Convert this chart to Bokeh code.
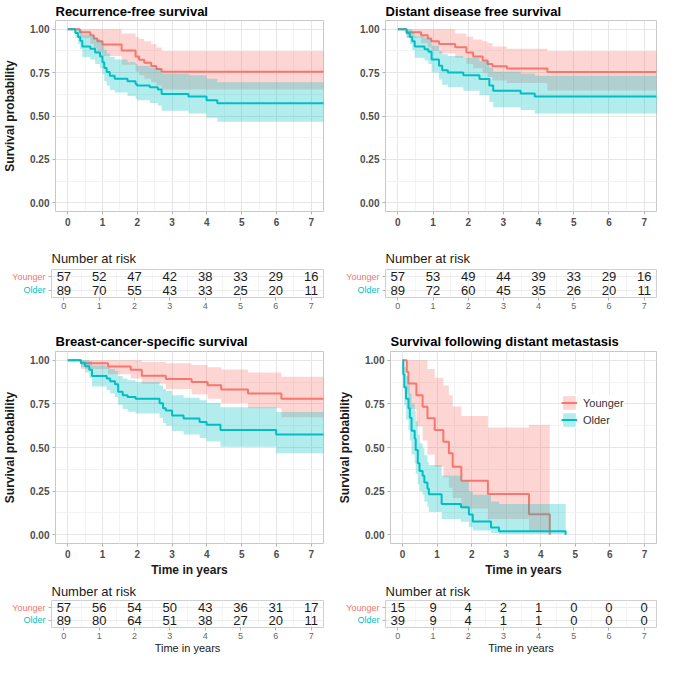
from bokeh.plotting import figure
from bokeh.models import (Range1d, SingleIntervalTicker, FixedTicker, NumeralTickFormatter,
                          Legend, LegendItem, ColumnDataSource)
from bokeh.layouts import column, row
from bokeh.embed import file_html
from bokeh.resources import INLINE
from bokeh.core.properties import value

FONT = "Liberation Sans"
RED = "#F8766D"
TEAL = "#00BFC4"

groups = ["Younger", "Older"]
risk_times = [0, 1, 2, 3, 4, 5, 6, 7]
follow_up_end = [7.4]

# ---- Recurrence-free survival ----
rfs_y_t = [0, 0.35, 0.65, 0.75, 0.85, 1.0, 1.55, 1.95, 2.05, 2.2, 2.4, 2.55, 2.7]
rfs_y_s = [1, .982, .965, .947, .930, .912, .877, .842, .824, .806, .788, .770, .755]
rfs_y_lo = [1, .948, .915, .89, .87, .845, .795, .755, .735, .715, .695, .675, .652]
rfs_y_hi = [1, 1, 1, 1, 1, 1, .975, .955, .945, .93, .915, .895, .875]
rfs_o_t = [0, 0.22, 0.3, 0.36, 0.42, 0.65, 0.79, 0.93, 1.0, 1.05, 1.12, 1.21, 1.35, 1.72, 1.95,
           1.99, 2.36, 2.59, 2.70, 3.47, 3.99, 4.30]
rfs_o_s = [1, .978, .955, .933, .90, .888, .865, .843, .81, .776, .754, .732, .715, .70, .684,
           .676, .665, .652, .627, .612, .59, .573]
rfs_o_hi = [1, 1, 1, .995, .97, .96, .945, .93, .905, .88, .86, .84, .825, .81, .80,
            .79, .78, .77, .745, .735, .715, .695]
rfs_o_lo = [1, .95, .915, .885, .84, .825, .80, .775, .74, .70, .675, .65, .635, .615, .60,
            .59, .575, .56, .53, .515, .49, .467]
rfs_risk_y = [57, 52, 47, 42, 38, 33, 29, 16]
rfs_risk_o = [89, 70, 55, 43, 33, 25, 20, 11]

# ---- Distant disease free survival ----
ddfs_y_t = [0, 0.25, 0.66, 0.85, 0.95, 1.17, 1.63, 1.95, 2.14, 2.41, 2.55, 2.69, 3.1, 4.25]
ddfs_y_s = [1, .982, .965, .947, .93, .915, .896, .865, .843, .82, .80, .787, .773, .754]
ddfs_y_hi = [1, 1, 1, 1, 1, 1, .975, .957, .94, .93, .92, .90, .887, .875]
ddfs_y_lo = [1, .95, .92, .895, .875, .86, .835, .80, .775, .75, .725, .705, .69, .647]
ddfs_o_t = [0, .25, .34, .41, .48, .76, .87, .96, 1.17, 1.26, 1.42, 1.86, 2.32, 2.60, 2.71, 3.49, 3.89]
ddfs_o_s = [1, .978, .955, .93, .90, .885, .87, .825, .79, .763, .75, .735, .713, .676, .645, .63, .613]
ddfs_o_hi = [1, 1, 1, .985, .96, .95, .94, .905, .875, .855, .845, .835, .815, .78, .755, .745, .732]
ddfs_o_lo = [1, .95, .915, .88, .835, .82, .80, .75, .71, .68, .665, .645, .62, .58, .55, .535, .515]
ddfs_risk_y = [57, 53, 49, 44, 39, 33, 29, 16]
ddfs_risk_o = [89, 72, 60, 45, 35, 26, 20, 11]

# ---- Breast-cancer-specific survival ----
bcss_y_t = [0, .38, 1.16, 1.81, 2.13, 2.82, 3.56, 4.02, 4.41, 5.18, 6.14]
bcss_y_s = [1, .982, .964, .946, .911, .893, .875, .857, .833, .81, .78]
bcss_y_hi = [1, 1, 1, 1, .99, .983, .972, .96, .947, .93, .906]
bcss_y_lo = [1, .95, .92, .895, .865, .835, .805, .78, .755, .725, .673]
bcss_o_t = [0, .38, .5, .62, .7, 1.12, 1.22, 1.36, 1.45, 1.58, 1.72, 1.95, 2.64, 2.74, 2.82, 3.0,
            3.33, 3.79, 3.99, 4.39, 5.99]
bcss_o_s = [1, .985, .965, .945, .91, .895, .88, .863, .82, .80, .79, .78, .753, .725, .712, .683,
            .666, .646, .63, .60, .574]
bcss_o_hi = [1, 1, 1, .995, .97, .96, .95, .94, .91, .895, .885, .875, .855, .835, .825, .80,
             .785, .77, .755, .73, .703]
bcss_o_lo = [1, .96, .93, .90, .85, .83, .81, .79, .745, .72, .705, .695, .67, .64, .625, .595,
             .575, .555, .535, .505, .467]
bcss_risk_y = [57, 56, 54, 50, 43, 36, 31, 17]
bcss_risk_o = [89, 80, 64, 51, 38, 27, 20, 11]

# ---- Survival following distant metastasis ----
sdm_y_t = [0, .12, .17, .40, .58, .72, .93, 1.18, 1.34, 1.45, 1.70, 2.47, 3.66, 4.26]
sdm_y_s = [1, .933, .867, .80, .733, .667, .60, .533, .467, .39, .31, .233, .117, 0]
sdm_y_hi = [1, 1, 1, 1, 1, .95, .90, .855, .80, .735, .68, .615, .63, 0]
sdm_y_lo = [1, .81, .72, .62, .54, .46, .39, .33, .27, .21, .15, .09, .02, 0]
sdm_o_t = [0, .02, .05, .10, .17, .21, .26, .35, .38, .44, .49, .58, .63, .72, .76, 1.13, 1.69,
           1.92, 2.03, 2.56, 2.79, 4.72]
sdm_o_s = [1, .92, .845, .78, .725, .67, .596, .55, .485, .41, .365, .338, .30, .264, .232, .177,
           .157, .116, .076, .042, .02, 0]
sdm_o_hi = [1, 1, .96, .91, .86, .81, .75, .71, .65, .575, .525, .495, .455, .415, .40, .34, .31,
            .25, .23, .19, .177, 0]
sdm_o_lo = [1, .84, .74, .66, .60, .54, .46, .41, .35, .29, .25, .23, .19, .16, .13, .09, .075,
            .045, .025, .01, .005, 0]
sdm_risk_y = [15, 9, 4, 2, 1, 0, 0, 0]
sdm_risk_o = [39, 9, 4, 1, 1, 0, 0, 0]


def step_xy(t, v, t_end):
    xs, ys = [], []
    for i in range(len(t)):
        x1 = t[i + 1] if i + 1 < len(t) else t_end
        xs += [t[i], x1]
        ys += [v[i], v[i]]
    return xs, ys


def style_axes(p, tick_size, tick_style, tick_color):
    for ax in (p.xaxis[0], p.yaxis[0]):
        ax.axis_line_color = None
        ax.major_tick_line_color = "#b3b3b3"
        ax.major_tick_out = 3
        ax.major_tick_in = 0
        ax.minor_tick_line_color = None
        ax.major_label_text_font = FONT
        ax.major_label_text_font_size = tick_size
        ax.major_label_text_font_style = tick_style
        ax.major_label_text_color = tick_color
        ax.major_label_standoff = 2


def km_panel(title, width, height, ml, mr, mt, mb, standoff, curves, ylabel, xlabel,
             legend_loc=None):
    p = figure(width=width, height=height, output_backend="svg", toolbar_location=None,
               x_range=Range1d(-0.35, 7.35), y_range=Range1d(-0.05, 1.05),
               min_border_left=ml, min_border_right=mr, min_border_top=mt, min_border_bottom=mb,
               title=title)
    p.title.text_font = FONT
    p.title.text_font_size = "13px"
    p.title.text_font_style = "bold"
    p.title.text_color = "#000000"
    p.title.align = "left"
    p.title.offset = 0
    p.title.standoff = standoff
    p.outline_line_color = "#c8c8c8"
    p.background_fill_color = "white"
    p.border_fill_color = "white"
    xt = SingleIntervalTicker(interval=1, num_minor_ticks=2)
    yt = SingleIntervalTicker(interval=0.25, num_minor_ticks=2)
    p.xaxis.ticker = xt
    p.xgrid.ticker = xt
    p.yaxis.ticker = yt
    p.ygrid.ticker = yt
    p.yaxis.formatter = NumeralTickFormatter(format="0.00")
    for g in (p.xgrid[0], p.ygrid[0]):
        g.grid_line_color = "#e6e6e6"
        g.minor_grid_line_color = "#f3f3f3"
    style_axes(p, "10px", "bold", "#4d4d4d")
    for ax, lab in ((p.yaxis[0], ylabel), (p.xaxis[0], xlabel)):
        if lab:
            ax.axis_label = lab
            ax.axis_label_text_font = FONT
            ax.axis_label_text_font_size = "12px"
            ax.axis_label_text_font_style = "bold"
            ax.axis_label_text_color = "#1a1a1a"
    p.yaxis.axis_label_standoff = 10
    p.xaxis.axis_label_standoff = 2
    items = []
    for name, color, (t, s, lo, hi, end) in zip(groups, (RED, TEAL), curves):
        bx, by1 = step_xy(t, lo, end)
        _, by2 = step_xy(t, hi, end)
        br = p.varea(x=bx, y1=by1, y2=by2, fill_color=color, fill_alpha=0.3)
        lx, ly = step_xy(t, s, end)
        lr = p.line(x=lx, y=ly, line_color=color, line_width=2)
        items.append(LegendItem(label=name, renderers=[br, lr]))
    if legend_loc is not None:
        lg = Legend(items=items, location=legend_loc, background_fill_color="white",
                    background_fill_alpha=1, border_line_color=None, padding=5, spacing=0,
                    margin=0, glyph_width=16, glyph_height=17, label_height=17,
                    label_standoff=6, label_text_font=FONT, label_text_font_size="11px",
                    label_text_color="#333333")
        p.add_layout(lg)
    return p


def risk_panel(width, height, ml, mr, mt, mb, standoff, counts_y, counts_o, xlabel):
    p = figure(width=width, height=height, output_backend="svg", toolbar_location=None,
               x_range=Range1d(-0.35, 7.35), y_range=Range1d(0.45, 2.55),
               min_border_left=ml, min_border_right=mr, min_border_top=mt, min_border_bottom=mb,
               title="Number at risk")
    p.title.text_font = FONT
    p.title.text_font_size = "13px"
    p.title.text_font_style = "normal"
    p.title.text_color = "#1a1a1a"
    p.title.align = "left"
    p.title.offset = 0
    p.title.standoff = standoff
    p.outline_line_color = "#d0d0d0"
    xt = SingleIntervalTicker(interval=1, num_minor_ticks=2)
    yt = FixedTicker(ticks=[1, 2])
    p.xaxis.ticker = xt
    p.xgrid.ticker = xt
    p.yaxis.ticker = yt
    p.ygrid.ticker = yt
    for g in (p.xgrid[0], p.ygrid[0]):
        g.grid_line_color = "#ececec"
        g.minor_grid_line_color = "#f5f5f5"
    style_axes(p, "9px", "normal", "#666666")
    p.xaxis.major_label_standoff = 1
    p.yaxis.major_label_overrides = {1: "", 2: ""}
    p.yaxis.major_label_standoff = 0
    p.yaxis.major_tick_out = 3
    if xlabel:
        p.xaxis.axis_label = xlabel
        p.xaxis.axis_label_text_font = FONT
        p.xaxis.axis_label_text_font_size = "11px"
        p.xaxis.axis_label_text_font_style = "normal"
        p.xaxis.axis_label_text_color = "#1a1a1a"
        p.xaxis.axis_label_standoff = 0
    src = ColumnDataSource(dict(x=risk_times + risk_times,
                                y=[2] * len(counts_y) + [1] * len(counts_o),
                                txt=[str(v) for v in counts_y + counts_o]))
    p.text(x="x", y="y", text="txt", source=src, text_align="center", text_baseline="middle",
           text_font=value(FONT), text_font_size="13px", text_color="#1a1a1a")
    return p


def row_labels(width, height, mt, mb):
    p = figure(width=width, height=height, output_backend="svg", toolbar_location=None,
               x_range=Range1d(0, 1), y_range=Range1d(0.45, 2.55),
               min_border_left=0, min_border_right=0, min_border_top=mt, min_border_bottom=mb)
    p.axis.visible = False
    p.grid.visible = False
    p.outline_line_color = None
    src = ColumnDataSource(dict(x=[1, 1], y=[2, 1], txt=groups, col=[RED, TEAL]))
    p.text(x="x", y="y", text="txt", text_color="col", source=src, text_align="right",
           text_baseline="middle", x_offset=-1, text_font=value(FONT), text_font_size="9px")
    return p


WL, WR = 335, 322
LABW_L, LABW_R = 46, 45
ML, MRL, MRR = 51, 12, 1
ML_R = 50

H1, H2, H3, H4 = 233, 82, 264, 77

f1 = km_panel("Recurrence-free survival", WL, H1, ML, MRL, 20, 22, 3,
              [(rfs_y_t, rfs_y_s, rfs_y_lo, rfs_y_hi, follow_up_end[0]),
               (rfs_o_t, rfs_o_s, rfs_o_lo, rfs_o_hi, follow_up_end[0])],
              "Survival probability", None)
f2 = km_panel("Distant disease free survival", WR, H1, ML_R, MRR, 20, 22, 3,
              [(ddfs_y_t, ddfs_y_s, ddfs_y_lo, ddfs_y_hi, follow_up_end[0]),
               (ddfs_o_t, ddfs_o_s, ddfs_o_lo, ddfs_o_hi, follow_up_end[0])],
              None, None)
l1 = row_labels(LABW_L, H2, 36, 18)
t1 = risk_panel(WL - LABW_L, H2, 5, MRL, 36, 18, 7, rfs_risk_y, rfs_risk_o, None)
l2 = row_labels(LABW_R, H2, 36, 18)
t2 = risk_panel(WR - LABW_R, H2, 5, MRR, 36, 18, 7, ddfs_risk_y, ddfs_risk_o, None)
f3 = km_panel("Breast-cancer-specific survival", WL, H3, ML, MRL, 36, 34, 6,
              [(bcss_y_t, bcss_y_s, bcss_y_lo, bcss_y_hi, follow_up_end[0]),
               (bcss_o_t, bcss_o_s, bcss_o_lo, bcss_o_hi, follow_up_end[0])],
              "Survival probability", "Time in years")
f4 = km_panel("Survival following distant metastasis", WR, H3, ML_R, MRR, 36, 34, 6,
              [(sdm_y_t, sdm_y_s, sdm_y_lo, sdm_y_hi, sdm_y_t[-1]),
               (sdm_o_t, sdm_o_s, sdm_o_lo, sdm_o_hi, sdm_o_t[-1])],
              "Survival probability", "Time in years", legend_loc=(171, 115))
l3 = row_labels(LABW_L, H4, 20, 29)
t3 = risk_panel(WL - LABW_L, H4, 5, MRL, 20, 29, 4, bcss_risk_y, bcss_risk_o, "Time in years")
l4 = row_labels(LABW_R, H4, 20, 29)
t4 = risk_panel(WR - LABW_R, H4, 5, MRR, 20, 29, 4, sdm_risk_y, sdm_risk_o, "Time in years")

layout = column(row(f1, f2), row(l1, t1, l2, t2), row(f3, f4), row(l3, t3, l4, t4))

open("out.html", "w").write(file_html(layout, INLINE))
